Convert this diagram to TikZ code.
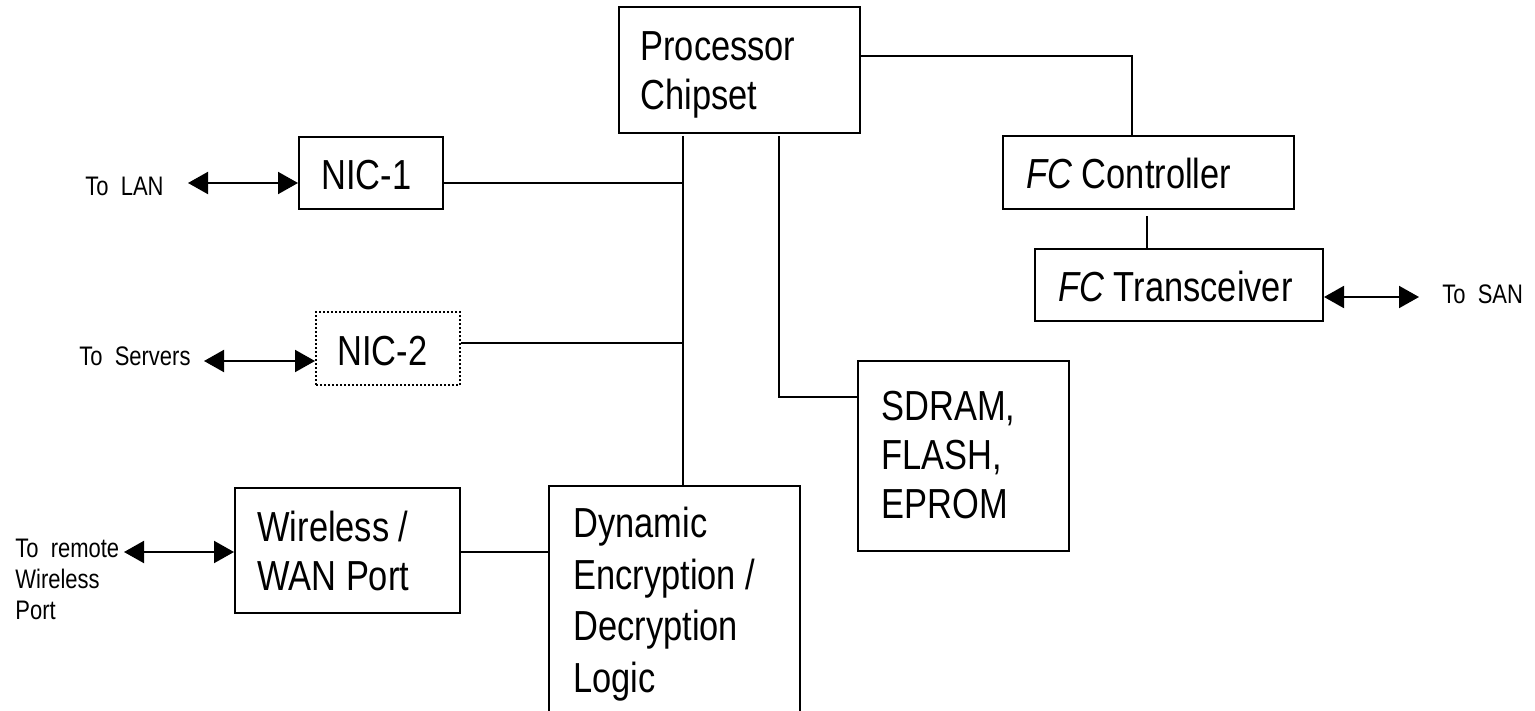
\documentclass[tikz,border=0pt]{standalone}
\usepackage{fontspec}
\setmainfont{Liberation Sans}[FakeStretch=0.82]
\usetikzlibrary{fit,calc,arrows.meta}
\tikzset{
  box/.style={draw, line width=1pt, inner sep=0pt},
  dotbox/.style={draw, line width=1pt, inner sep=0pt, dash pattern=on 1pt off 1pt},
  lbl/.style={inner sep=0pt, align=left, anchor=base west, font=\fontsize{21}{24.5}\selectfont},
  lbldyn/.style={inner sep=0pt, align=left, anchor=base west, font=\fontsize{21}{25.7}\selectfont},
  small/.style={inner sep=0pt, align=left, anchor=base west, font=\fontsize{13.4}{15.5}\selectfont},
  wire/.style={line width=1pt},
  dbl/.style={line width=1pt, {Triangle[length=10pt,width=11pt]}-{Triangle[length=10pt,width=11pt]}}
}
\begin{document}
\begin{tikzpicture}[x=0.5pt,y=-0.5pt]
\useasboundingbox (0,0) rectangle (1535,711);
% boxes
\node[box, fit={(619,7) (860,133)}] (proc) {};
\node[box, fit={(299,137) (443,209)}] (nic1) {};
\node[dotbox, fit={(316,312) (460,385)}] (nic2) {};
\node[box, fit={(235,488) (460,613)}] (wan) {};
\node[box, fit={(549,486) (800,760)}] (dyn) {};
\node[box, fit={(858,361) (1069,551)}] (mem) {};
\node[box, fit={(1003,136) (1294,209)}] (fcc) {};
\node[box, fit={(1035,249) (1323,321)}] (fct) {};
% texts (anchor = baseline of the last line)
\node[lbl] (procT) at (640,110) {Processor\\Chipset};
\node[lbl] (nic1T) at (321,190) {NIC-1};
\node[lbl] (nic2T) at (337,365) {NIC-2};
\node[lbl] (wanT) at (257,590) {Wireless /\\WAN Port};
\node[lbldyn] (dynT) at (573,692) {Dynamic\\Encryption /\\Decryption\\Logic};
\node[lbl] (memT) at (881,518) {SDRAM,\\FLASH,\\EPROM};
\node[lbl] (fccT) at (1026,189) {\itshape FC\upshape{} Controller};
\node[lbl] (fctT) at (1058,301) {\itshape FC\upshape{} Transceiver};
\node[small] (lanT) at (85,196) {To\ \ LAN};
\node[small] (srvT) at (79,365) {To\ \ Servers};
\node[small] (remT) at (15,619) {To\ \ remote\\Wireless\\Port};
\node[small] (sanT) at (1442,303) {To\ \ SAN};
% connectors
\coordinate (busTop) at (683,136);
\draw[wire] (busTop) -- (busTop |- dyn.north);
\coordinate (j1) at (683,183);
\draw[wire] (j1 -| nic1.east) -- (j1);
\coordinate (j2) at (683,343);
\draw[wire] (j2 -| nic2.east) -- (j2);
\coordinate (j3) at (500,552);
\draw[wire] (j3 -| wan.east) -- (j3 -| dyn.west);
\coordinate (memTop) at (779,136);
\coordinate (memCorner) at (779,397);
\draw[wire] (memTop) -- (memCorner) -- (memCorner -| mem.west);
\coordinate (prY) at (900,56);
\coordinate (fcX) at (1132,100);
\draw[wire] (prY -| proc.east) -| (fcX |- fcc.north);
\coordinate (fcLink) at (1147,216);
\draw[wire] (fcLink) -- (fcLink |- fct.north);
\coordinate (lanEnd) at (188,183);
\draw[dbl] (lanEnd) -- (lanEnd -| nic1.west);
\coordinate (srvEnd) at (204,361);
\draw[dbl] (srvEnd) -- (srvEnd -| nic2.west);
\coordinate (remEnd) at (124,552);
\draw[dbl] (remEnd) -- (remEnd -| wan.west);
\coordinate (sanEnd) at (1419,297);
\draw[dbl] (sanEnd -| fct.east) -- (sanEnd);
\end{tikzpicture}
\end{document}
